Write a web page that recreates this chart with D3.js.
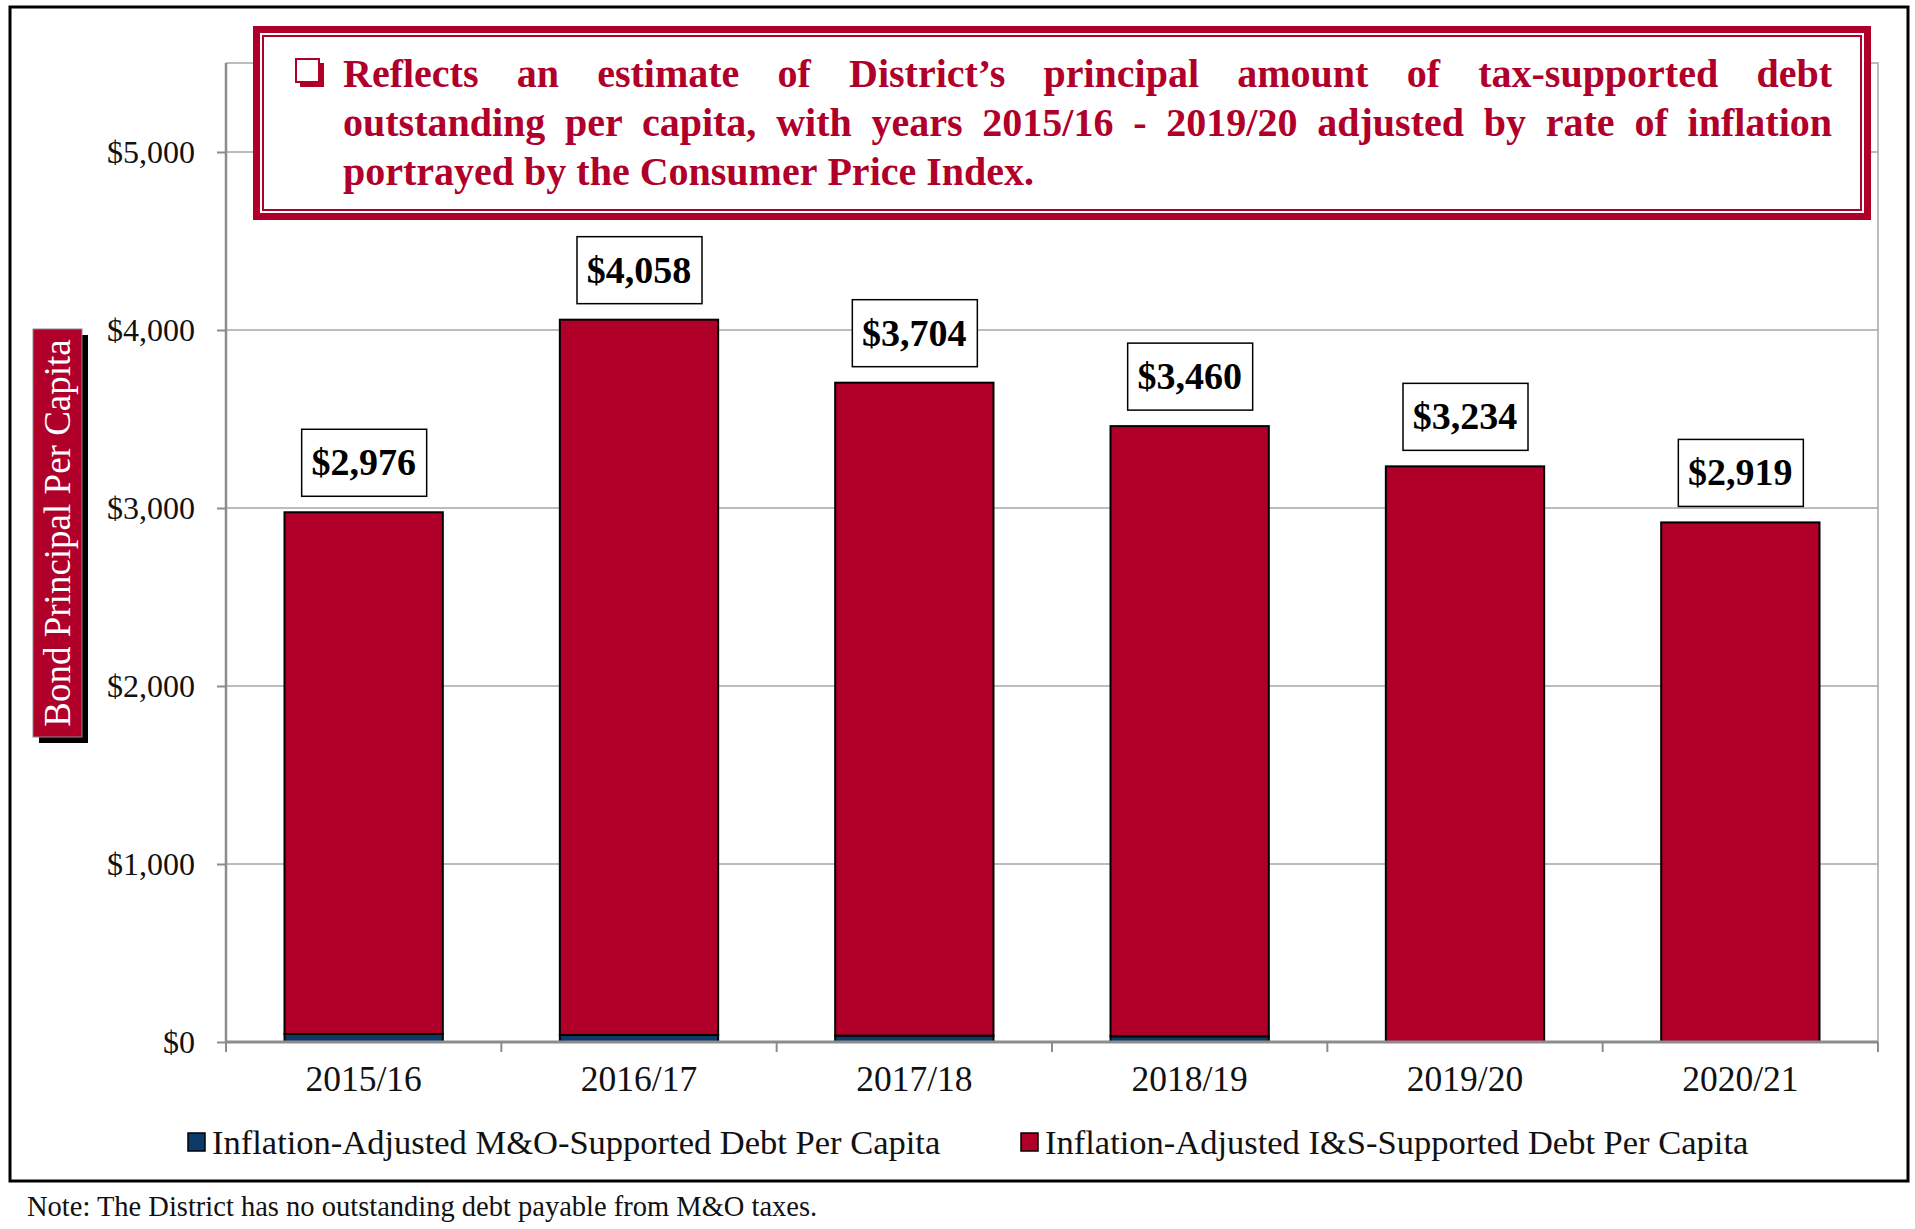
<!DOCTYPE html>
<html>
<head>
<meta charset="utf-8">
<script src="https://cdn.jsdelivr.net/npm/d3@7"></script>
<style>
  body { margin: 0; background: #fff; }
  svg { display: block; font-family: "Liberation Serif", "DejaVu Serif", serif; }
</style>
</head>
<body>
<div id="chart"></div>
<script>
var width = 1915;
var height = 1229;

// data
var years = ["2015/16", "2016/17", "2017/18", "2018/19", "2019/20", "2020/21"];
var moDebt = [45, 40, 36, 32, 0, 0];
var isDebt = [2931, 4018, 3668, 3428, 3234, 2919];
var totals = [2976, 4058, 3704, 3460, 3234, 2919];
var yTicks = [0, 1000, 2000, 3000, 4000, 5000];
var seriesNames = ["Inflation-Adjusted M&O-Supported Debt Per Capita", "Inflation-Adjusted I&S-Supported Debt Per Capita"];
var noteLines = ["Reflects an estimate of District\u2019s principal amount of tax-supported debt",
                 "outstanding per capita, with years 2015/16 - 2019/20 adjusted by rate of inflation",
                 "portrayed by the Consumer Price Index."];

var red = "#B0002A";
var blue = "#0B3A68";
var grid = "#A6A6A6";
var axisGray = "#8C8C8C";

var rows = years.map(function(y, i) { return {year: y, mo: moDebt[i], is: isDebt[i], total: totals[i]}; });
var keys = ["mo", "is"];
var colors = {mo: blue, is: red};
var stacked = d3.stack().keys(keys)(rows);

var plotLeft = 226, plotRight = 1878, plotTop = 63, plotBottom = 1042;

var xScale = d3.scaleBand().domain(years).range([plotLeft, plotRight])
    .paddingInner(0.425).paddingOuter(0.2125);
var yScale = d3.scaleLinear().domain([0, 5500]).range([plotBottom, plotTop]);

var svg = d3.select("#chart").append("svg")
    .attr("width", width)
    .attr("height", height);

// outer frame
svg.append("rect")
    .attr("x", 10).attr("y", 7)
    .attr("width", 1898).attr("height", 1174)
    .attr("fill", "none").attr("stroke", "#000").attr("stroke-width", 3);

// plot border (top/right) and gridlines
svg.append("path")
    .attr("d", "M" + plotLeft + "," + plotTop + "H" + plotRight + "V" + plotBottom)
    .attr("fill", "none").attr("stroke", grid).attr("stroke-width", 1.5);

svg.append("g")
    .selectAll("line")
    .data(yTicks.filter(function(d) { return d > 0; }))
    .enter().append("line")
    .attr("x1", plotLeft).attr("x2", plotRight)
    .attr("y1", function(d) { return yScale(d); })
    .attr("y2", function(d) { return yScale(d); })
    .attr("stroke", grid).attr("stroke-width", 1.5);

// y axis
var yAxis = d3.axisLeft(yScale)
    .tickValues(yTicks)
    .tickSize(9)
    .tickPadding(22)
    .tickFormat(function(d) { return "$" + d3.format(",")(d); });

var yg = svg.append("g")
    .attr("transform", "translate(" + plotLeft + ",0)")
    .call(yAxis);
yg.select(".domain").attr("stroke", axisGray).attr("stroke-width", 2.5)
    .attr("d", "M0," + plotTop + "V" + plotBottom);
yg.selectAll(".tick line").attr("stroke", axisGray).attr("stroke-width", 2);
yg.selectAll(".tick text")
    .attr("font-family", "Liberation Serif")
    .attr("font-size", 32)
    .attr("fill", "#111");

// bars
var layers = svg.append("g")
    .selectAll("g")
    .data(stacked)
    .enter().append("g")
    .attr("fill", function(d) { return colors[d.key]; });

layers.selectAll("rect")
    .data(function(d) { return d.filter(function(p) { return p[1] > p[0]; }); })
    .enter().append("rect")
    .attr("x", function(d) { return xScale(d.data.year); })
    .attr("y", function(d) { return yScale(d[1]); })
    .attr("width", xScale.bandwidth())
    .attr("height", function(d) { return yScale(d[0]) - yScale(d[1]); })
    .attr("stroke", "#000")
    .attr("stroke-width", 2);

// x axis
var xAxis = d3.axisBottom(xScale).tickSize(0).tickPadding(24);
var xg = svg.append("g")
    .attr("transform", "translate(0," + plotBottom + ")")
    .call(xAxis);
xg.select(".domain").attr("stroke", axisGray).attr("stroke-width", 3)
    .attr("d", "M" + plotLeft + ",0H" + plotRight);
xg.selectAll(".tick text")
    .attr("font-family", "Liberation Serif")
    .attr("font-size", 35.5)
    .attr("fill", "#111");

// category divider ticks
var step = xScale.step();
svg.append("g")
    .selectAll("line")
    .data(d3.range(years.length + 1))
    .enter().append("line")
    .attr("x1", function(i) { return plotLeft + i * step; })
    .attr("x2", function(i) { return plotLeft + i * step; })
    .attr("y1", plotBottom)
    .attr("y2", plotBottom + 10)
    .attr("stroke", axisGray).attr("stroke-width", 2);

// value labels
var labels = svg.append("g")
    .selectAll("g")
    .data(rows)
    .enter().append("g")
    .attr("transform", function(d) {
        return "translate(" + (xScale(d.year) + xScale.bandwidth() / 2) + "," + (yScale(d.total) - 16) + ")";
    });
labels.append("rect")
    .attr("x", -62).attr("y", -67)
    .attr("width", 125).attr("height", 67)
    .attr("fill", "#fff").attr("stroke", "#000").attr("stroke-width", 1.5);
labels.append("text")
    .attr("y", -21)
    .attr("text-anchor", "middle")
    .attr("font-size", 38)
    .attr("font-weight", "bold")
    .attr("fill", "#000")
    .text(function(d) { return "$" + d3.format(",")(d.total); });

// y axis title box
svg.append("rect")
    .attr("x", 39).attr("y", 335).attr("width", 49).attr("height", 408)
    .attr("fill", "#000");
svg.append("rect")
    .attr("x", 33).attr("y", 329).attr("width", 49).attr("height", 408)
    .attr("fill", red).attr("stroke", "#8a8a8a").attr("stroke-width", 1);
svg.append("text")
    .attr("transform", "translate(70,533) rotate(-90)")
    .attr("text-anchor", "middle")
    .attr("font-size", 37)
    .attr("fill", "#fff")
    .text("Bond Principal Per Capita");

// annotation box
var note = svg.append("g");
note.append("rect")
    .attr("x", 253).attr("y", 26).attr("width", 1618).attr("height", 194)
    .attr("fill", "#fff");
note.append("rect")
    .attr("x", 256.5).attr("y", 29.5).attr("width", 1611).attr("height", 187)
    .attr("fill", "none").attr("stroke", red).attr("stroke-width", 7);
note.append("rect")
    .attr("x", 263).attr("y", 36).attr("width", 1598).attr("height", 174)
    .attr("fill", "none").attr("stroke", red).attr("stroke-width", 2);

// check box bullet
note.append("rect")
    .attr("x", 300).attr("y", 63).attr("width", 24).attr("height", 24)
    .attr("fill", red);
note.append("rect")
    .attr("x", 296).attr("y", 59).attr("width", 23).attr("height", 23)
    .attr("fill", "#fff").attr("stroke", red).attr("stroke-width", 2);

var textLeft = 343, textRight = 1832;
var baselines = [87, 136, 185];
noteLines.forEach(function(line, li) {
    var words = line.split(" ");
    var t = note.append("text")
        .attr("y", baselines[li])
        .attr("font-size", 40)
        .attr("font-weight", "bold")
        .attr("fill", red);
    var spans = words.map(function(w) { return t.append("tspan").text(w); });
    var widths = spans.map(function(s) { return s.node().getComputedTextLength(); });
    var total = d3.sum(widths);
    var gap = li < 2 ? (textRight - textLeft - total) / (words.length - 1) : 10;
    var x = textLeft;
    spans.forEach(function(s, i) {
        s.attr("x", x);
        x += widths[i] + gap;
    });
});

// legend
var legend = svg.append("g")
    .selectAll("g")
    .data(keys)
    .enter().append("g")
    .attr("transform", function(d, i) { return "translate(" + (i === 0 ? 188 : 1021) + ",1133)"; });
legend.append("rect")
    .attr("width", 17).attr("height", 18)
    .attr("fill", function(d) { return colors[d]; })
    .attr("stroke", "#000").attr("stroke-width", 1.5);
legend.append("text")
    .attr("x", 24).attr("y", 9)
    .attr("dy", "0.35em")
    .attr("font-size", 34.5)
    .attr("fill", "#111")
    .text(function(d, i) { return seriesNames[i]; });

// footnote
svg.append("text")
    .attr("x", 27).attr("y", 1216)
    .attr("font-size", 28.5)
    .attr("fill", "#111")
    .text("Note: The District has no outstanding debt payable from M&O taxes.");
</script>
</body>
</html>
